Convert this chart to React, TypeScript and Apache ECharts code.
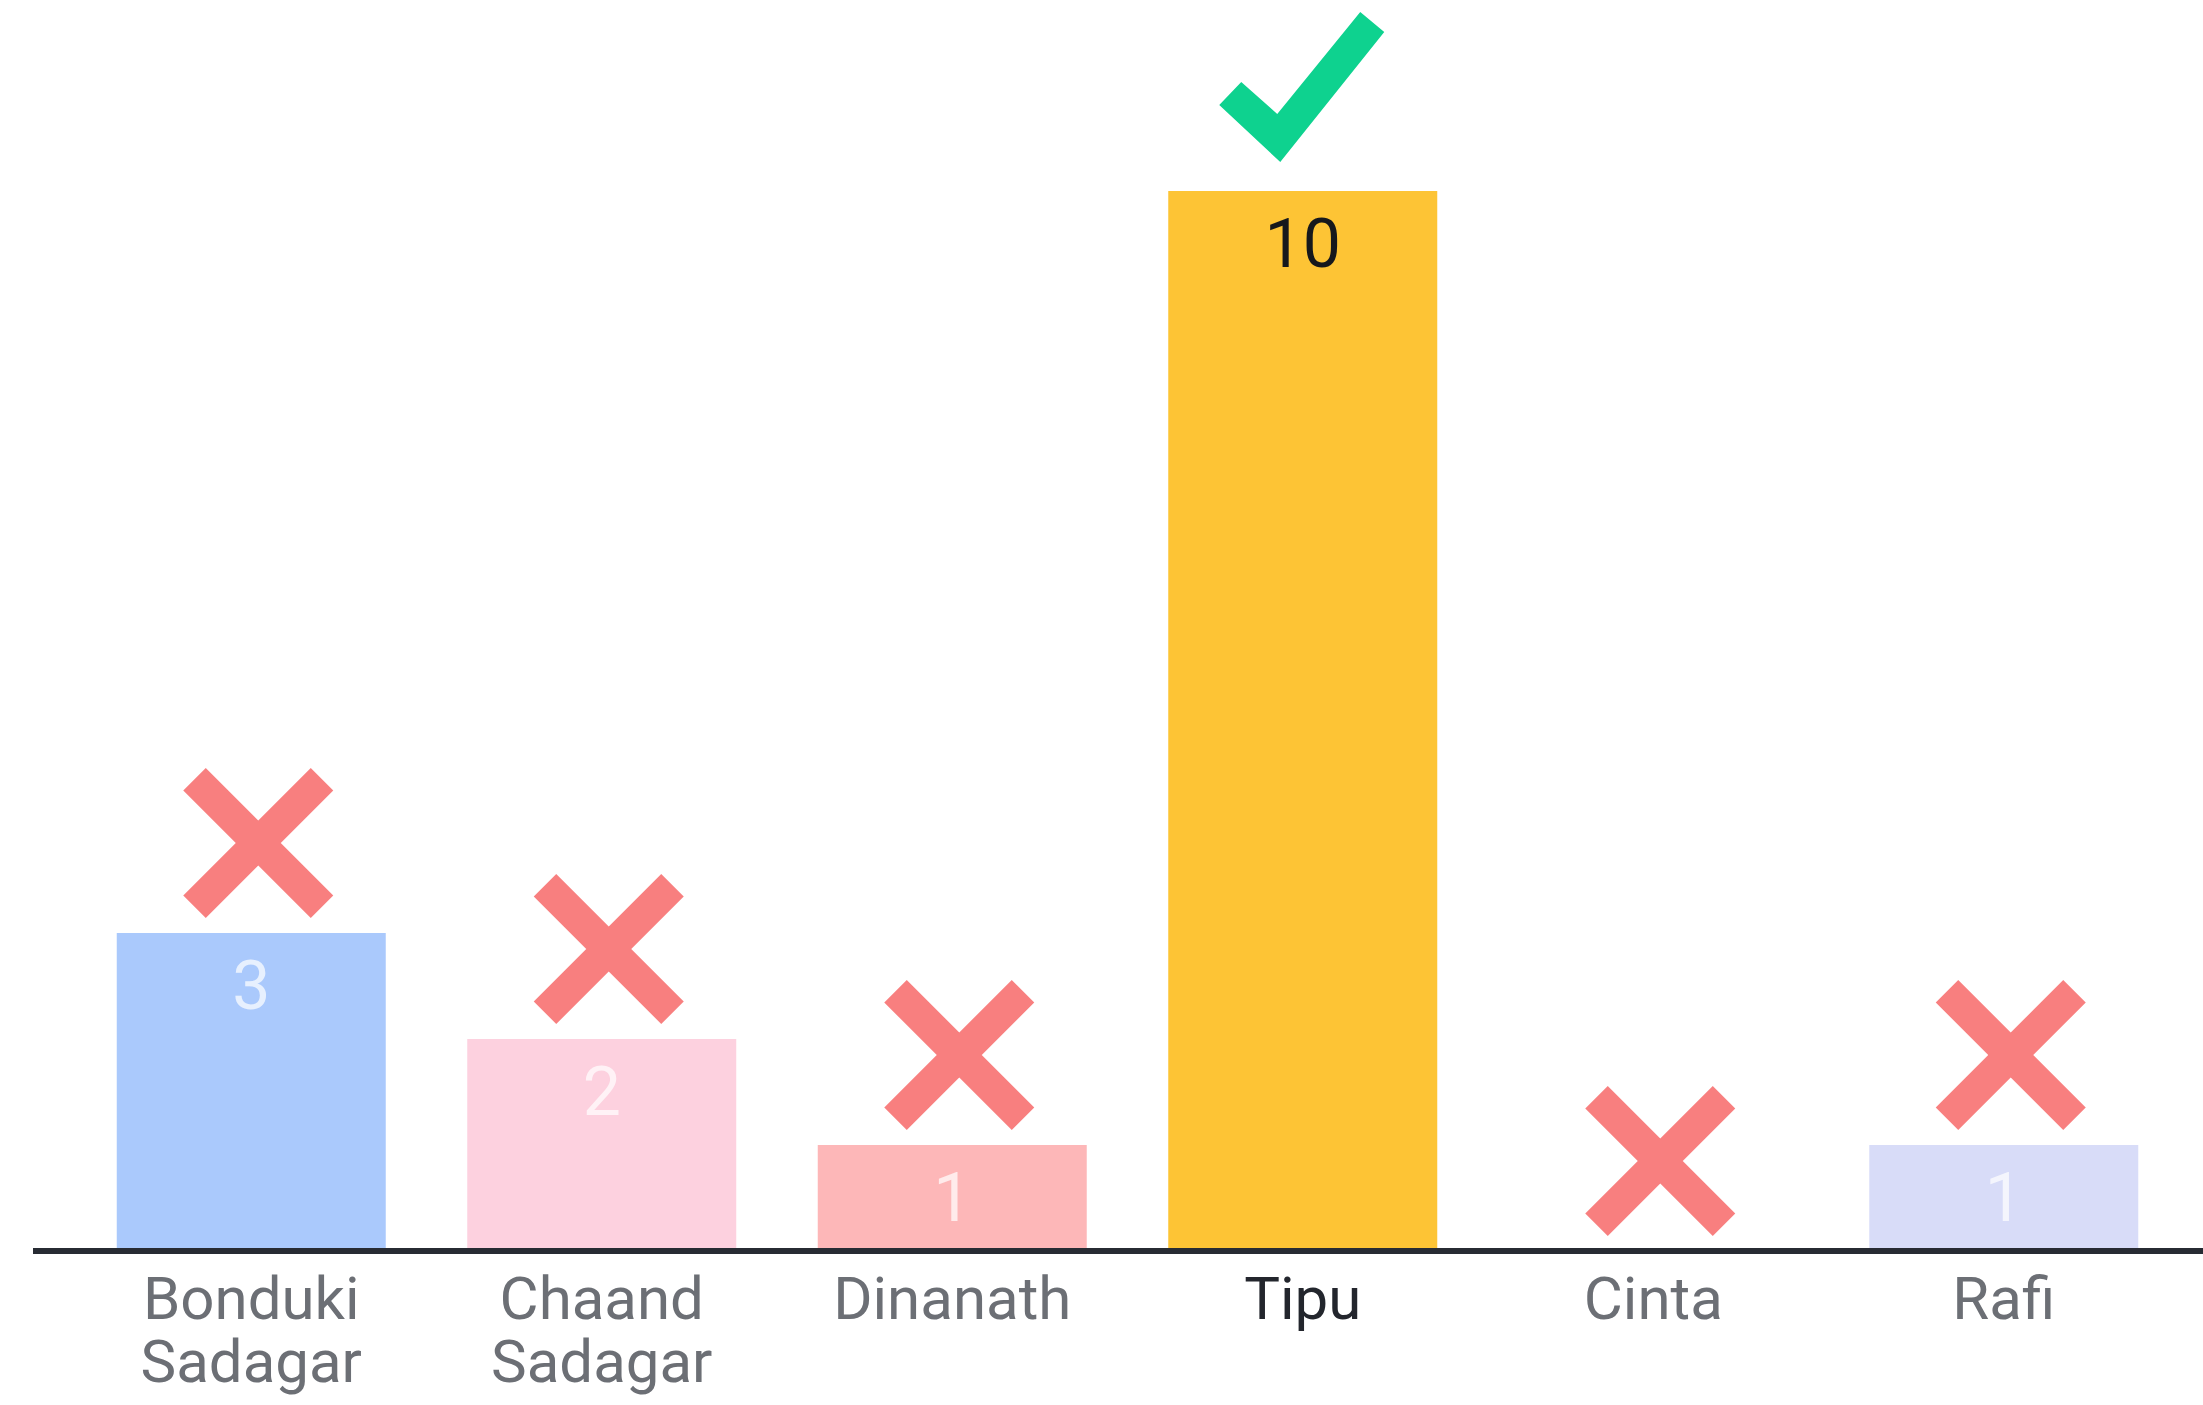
import React, { useEffect, useRef } from "react";
import * as echarts from "echarts";

const categories = ["Bonduki\nSadagar", "Chaand\nSadagar", "Dinanath", "Tipu", "Cinta", "Rafi"];
const votes = [3, 2, 1, 10, 0, 1];
const barColors = ["#AAC9FC", "#FDD1DF", "#FDB7B8", "#FDC435", "#D8DCF8", "#D8DCF8"];
const correctIndex = 3;

const CROSS =
  "path://M0,15 L15,0 L50,35 L85,0 L100,15 L65,50 L100,85 L85,100 L50,65 L15,100 L0,85 L35,50 Z";
const CHECK = "path://M0,93 L22,70 L58,102 L141,0 L165,20 L61,150 Z";

export default function App() {
  const ref = useRef<HTMLDivElement>(null);
  useEffect(() => {
    if (!ref.current) return;
    const chart = echarts.init(ref.current, undefined, { renderer: "svg" });
    const font = "Roboto";
    const barData = votes.map((v, i) => ({
      value: v,
      itemStyle: { color: barColors[i] },
      label: { color: i === correctIndex ? "#16181C" : "rgba(255,255,255,0.72)" },
    }));
    const wrongData = votes.map((v, i) => (i === correctIndex ? "-" : v));
    const rightData = votes.map((v, i) => (i === correctIndex ? v : "-"));
    chart.setOption({
      animation: false,
      backgroundColor: "#ffffff",
      grid: { left: 76, right: 24, top: 191, bottom: 154, containLabel: false },
      xAxis: {
        type: "category",
        data: categories.map((c, i) => ({
          value: c,
          textStyle: { color: i === correctIndex ? "#23262D" : "#6C6F75" },
        })),
        boundaryGap: true,
        axisLine: { show: false },
        axisTick: { show: false },
        axisLabel: {
          interval: 0,
          fontFamily: font,
          fontSize: 60,
          lineHeight: 63,
          margin: 16,
          color: "#6C6F75",
        },
      },
      yAxis: {
        type: "value",
        min: 0,
        max: 10,
        show: false,
        splitLine: { show: false },
      },
      series: [
        {
          type: "bar",
          data: barData,
          barWidth: 269,
          label: {
            show: true,
            position: "insideTop",
            distance: 19,
            fontFamily: font,
            fontSize: 68,
            formatter: (p: any) => (p.value > 0 ? String(p.value) : ""),
          },
        },
        {
          type: "scatter",
          data: wrongData,
          symbol: CROSS,
          symbolSize: [150, 150],
          symbolOffset: [7, -90],
          itemStyle: { color: "#F87F7F", opacity: 1 },
          clip: false,
          z: 5,
        },
        {
          type: "scatter",
          data: rightData,
          symbol: CHECK,
          symbolSize: [165, 150],
          symbolOffset: [-1, -104],
          itemStyle: { color: "#0ED28F", opacity: 1 },
          clip: false,
          z: 5,
        },
      ],
      graphic: [
        {
          type: "line",
          shape: { x1: 33, y1: 1251, x2: 2203, y2: 1251 },
          style: { stroke: "#272B33", lineWidth: 6 },
          z: 10,
        },
      ],
    });
    return () => chart.dispose();
  }, []);
  return (
    <div
      ref={ref}
      style={{ position: "absolute", left: 0, top: 0, width: 2203, height: 1405 }}
    />
  );
}
